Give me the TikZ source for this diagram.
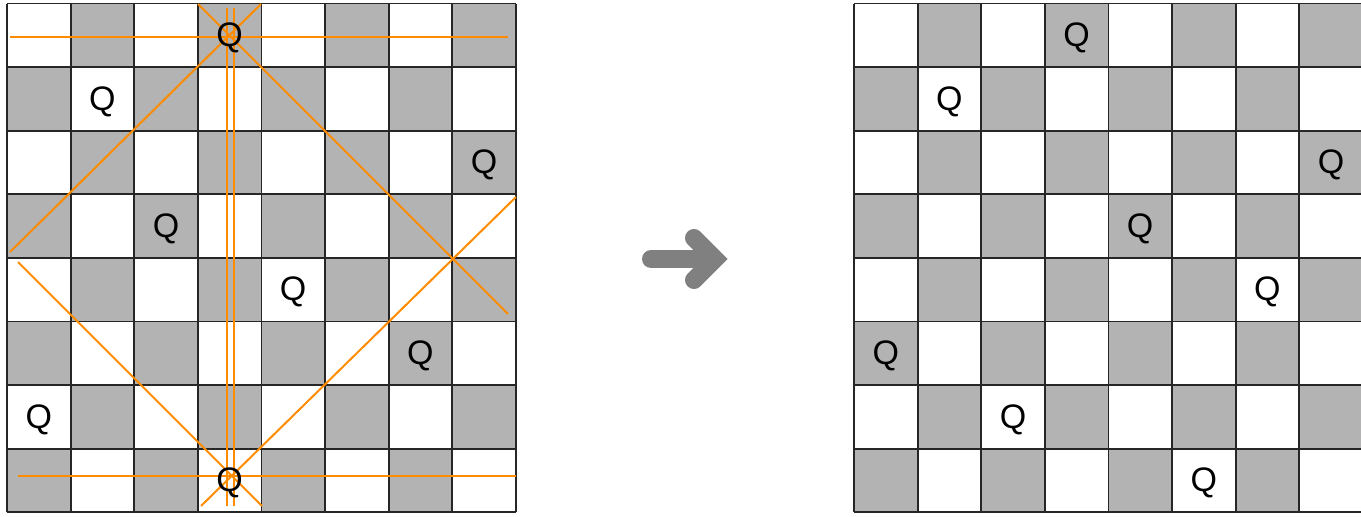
\documentclass[tikz,border=0pt]{standalone}
\usepackage{fontspec}
\setmainfont{Liberation Sans}
\definecolor{cellgray}{RGB}{179,179,179}
\definecolor{qorange}{RGB}{255,140,0}
\definecolor{arrowgray}{RGB}{128,128,128}
\begin{document}
\begin{tikzpicture}[x=1pt,y=-1pt,
  gridline/.style={line width=1.8pt,draw=black!85},
  queen/.style={inner sep=0pt,font=\fontsize{34}{40}\selectfont},
  attack/.style={draw=qorange,line width=2pt},
  bigarrow/.style={draw=arrowgray,line width=18pt,line cap=round,line join=miter}]
\useasboundingbox (0,0) rectangle (1361,517);
\def\cs{63.6}
% boards
\foreach \ox in {7,854}{
  \foreach \r in {0,...,7}{
    \foreach \c in {0,...,7}{
      \pgfmathtruncatemacro\p{mod(\r+\c,2)}
      \ifnum\p=1
        \fill[cellgray] ({\ox+\c*\cs},{3.5+\r*\cs}) rectangle ++(\cs,\cs);
      \fi
    }
  }
  \foreach \k in {0,...,8}{
    \draw[gridline] ({\ox+\k*\cs},3.5) -- ({\ox+\k*\cs},{3.5+8*\cs});
    \draw[gridline] (\ox,{3.5+\k*\cs}) -- ({\ox+8*\cs},{3.5+\k*\cs});
  }
}
% attack lines (left board)
\coordinate (t1) at (10,37);   \coordinate (t2) at (508,37);
\coordinate (t3) at (198,4);   \coordinate (t4) at (508,314);
\coordinate (t5) at (261,4);   \coordinate (t6) at (10,252);
\coordinate (v1) at (226.5,8); \coordinate (v2) at (226.5,506);
\coordinate (v3) at (233.5,8); \coordinate (v4) at (233.5,506);
\coordinate (b1) at (18,476);  \coordinate (b2) at (516,476);
\coordinate (b3) at (18,262);  \coordinate (b4) at (262,506);
\coordinate (b5) at (516,197); \coordinate (b6) at (201,506);
\foreach \a/\b in {t1/t2,t3/t4,t5/t6,v1/v2,v3/v4,b1/b2,b3/b4,b5/b6}
  \draw[attack] (\a) -- (\b);
% queens
\foreach \r/\c [count=\i] in {0/3,1/1,2/7,3/2,4/4,5/6,6/0,7/3}
  \node[queen] (L\i) at ({7+(\c+0.5)*\cs},{6+(\r+0.5)*\cs}) {Q};
\foreach \r/\c [count=\i] in {0/3,1/1,2/7,3/4,4/6,5/0,6/2,7/5}
  \node[queen] (R\i) at ({854+(\c+0.5)*\cs},{6+(\r+0.5)*\cs}) {Q};
% arrow
\coordinate (a1) at (651,259); \coordinate (a2) at (712,259);
\coordinate (h1) at (694,238); \coordinate (h2) at (715,259); \coordinate (h3) at (694,280);
\draw[bigarrow] (a1) -- (a2);
\draw[bigarrow] (h1) -- (h2) -- (h3);
\end{tikzpicture}
\end{document}
